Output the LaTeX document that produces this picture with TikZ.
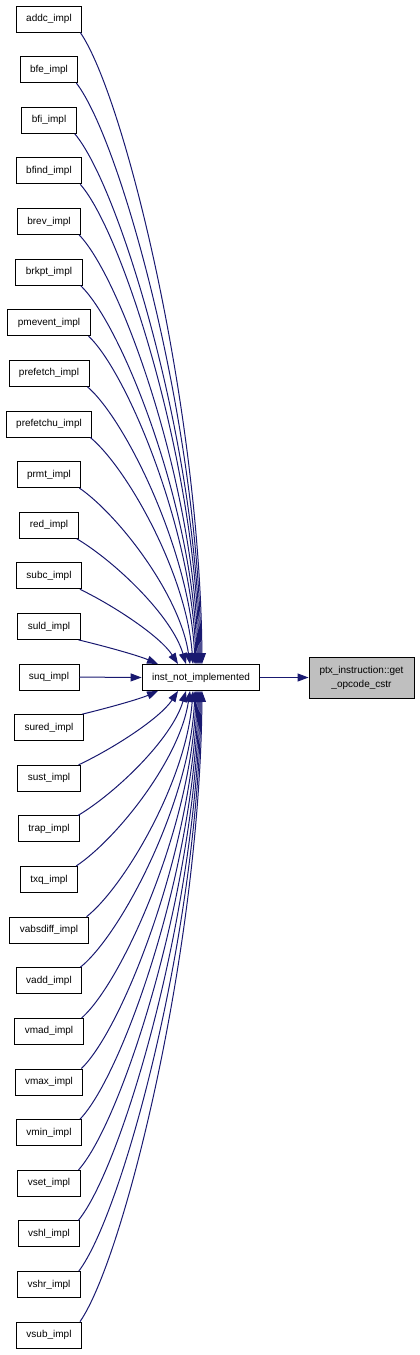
\documentclass[tikz,border=0pt]{standalone}
\usepackage{fontspec}
\setmainfont{Liberation Sans}
\usetikzlibrary{arrows.meta,calc}
\definecolor{edgeblue}{HTML}{191970}
\definecolor{boxgray}{HTML}{BFBFBF}
\begin{document}
\begin{tikzpicture}[x=1pt,y=-1pt,
  box/.style={draw=black,line width=0.9pt,fill=white,minimum height=26pt,inner xsep=10pt,inner ysep=0pt,font=\fontsize{10}{12}\selectfont},
  edge/.style={draw=edgeblue,line width=1pt,-{Triangle[length=11pt,width=8pt]}}]
\useasboundingbox (0,0) rectangle (420,1355);

\node[box] (inst) at (201,677.5) {inst\_not\_implemented};
\node[box,fill=boxgray,minimum width=105pt,minimum height=41pt,inner xsep=2pt,align=center,font=\fontsize{10}{14}\selectfont] (ptx) at (361.5,677.5) {ptx\_instruction::get\\\_opcode\_cstr};
\draw[edge] (inst.east) -- (ptx.west);

% upper sources
\foreach \nm/\i/\ex in {addc/0/202,bfe/1/201,bfi/2/200,bfind/3/199,brev/4/198,brkpt/5/197,pmevent/6/196,prefetch/7/195,prefetchu/8/193,prmt/9/190,red/10/186,subc/11/178,suld/12/158}{
  \pgfmathsetmacro{\w}{(1-abs(\i-13)/13)^4}
  \pgfmathsetmacro{\aa}{0.36*(1-\w)+\w/3}
  \pgfmathsetmacro{\bb}{0.1*(1-\w)+\w/3}
  \pgfmathsetmacro{\cc}{0.41*(1-\w)+\w/3}
  \node[box] (\nm) at (49,{19+50.62*\i}) {\nm\_impl};
  \draw[edge] let \p1=($(\nm.south east)+(-2,0)$), \p2=($(inst.north)+({\ex-201},0)$) in
    (\p1) .. controls ({\x1+\aa*(\x2-\x1)},{\y1+\bb*(\y2-\y1)}) and ({\x2-(1-\w)*2pt-\w*(\x2-\x1)/3},{\y2-\cc*(\y2-\y1)}) .. (\p2);
}
% middle
\node[box] (suq) at (49,{19+50.62*13}) {suq\_impl};
\draw[edge] (suq.east) -- (inst.west);
% lower sources
\foreach \nm/\i/\ex in {sured/14/158,sust/15/178,trap/16/186,txq/17/190,vabsdiff/18/193,vadd/19/195,vmad/20/196,vmax/21/197,vmin/22/198,vset/23/199,vshl/24/200,vshr/25/201,vsub/26/202}{
  \pgfmathsetmacro{\w}{(1-abs(\i-13)/13)^4}
  \pgfmathsetmacro{\aa}{0.36*(1-\w)+\w/3}
  \pgfmathsetmacro{\bb}{0.1*(1-\w)+\w/3}
  \pgfmathsetmacro{\cc}{0.41*(1-\w)+\w/3}
  \node[box] (\nm) at (49,{19+50.62*\i}) {\nm\_impl};
  \draw[edge] let \p1=($(\nm.north east)+(-2,0)$), \p2=($(inst.south)+({\ex-201},0)$) in
    (\p1) .. controls ({\x1+\aa*(\x2-\x1)},{\y1+\bb*(\y2-\y1)}) and ({\x2-(1-\w)*2pt-\w*(\x2-\x1)/3},{\y2-\cc*(\y2-\y1)}) .. (\p2);
}
\end{tikzpicture}
\end{document}
